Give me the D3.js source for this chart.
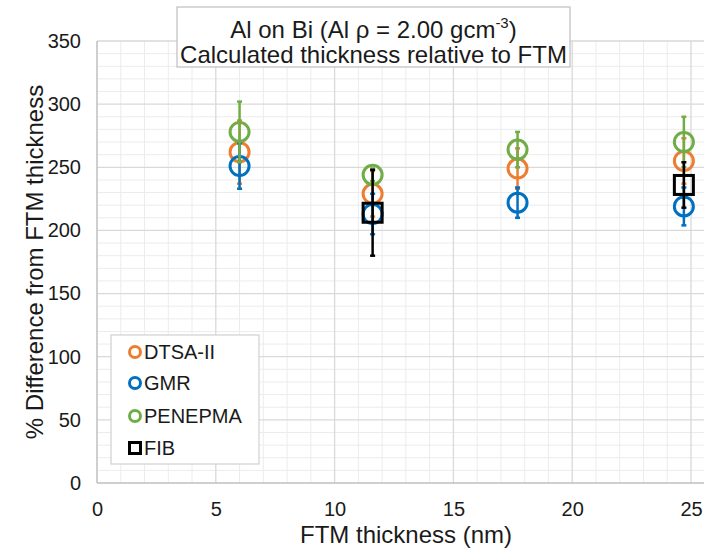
<!DOCTYPE html>
<html><head><meta charset="utf-8">
<script src="https://cdn.jsdelivr.net/npm/d3@7"></script>
<style>body{margin:0;background:#fff}svg{display:block;font-family:"Liberation Sans",Arial,sans-serif}</style>
</head><body><svg id="c" width="704" height="549"></svg>
<script>
const seriesNames = ["DTSA-II", "GMR", "PENEPMA", "FIB"];
const seriesColors = ["#ED7D31", "#0070C0", "#70AD47", "#000000"];
const ftmX = [6.0, 11.6, 17.7, 24.7];
const dtsaY = [262, 229, 249, 255];
const dtsaErr = [25, 18, 16, 18];
const gmrY = [251, 213, 222, 219];
const gmrErr = [18, 16, 12, 15];
const penY = [278, 244, 264, 270];
const penErr = [24, 5, 14, 20];
const fibX = [11.6, 24.7];
const fibY = [214, 236];
const fibErr = [34, 18];
const xTicks = [0, 5, 10, 15, 20, 25];
const yTicks = [0, 50, 100, 150, 200, 250, 300, 350];

const svg = d3.select("#c");
const x = d3.scaleLinear().domain([0, 26]).range([97, 97 + 26 * 23.76]);
const y = d3.scaleLinear().domain([0, 350]).range([483, 41]);

// minor grid
const g = svg.append("g");
g.selectAll(".mx").data(d3.range(1, 27).filter(v => v % 5)).enter().append("line")
  .attr("x1", d => x(d)).attr("x2", d => x(d)).attr("y1", y(0)).attr("y2", y(350))
  .attr("stroke", "#ececec").attr("stroke-width", 1);
g.selectAll(".my").data(d3.range(10, 351, 10).filter(v => v % 50)).enter().append("line")
  .attr("x1", x(0)).attr("x2", 704).attr("y1", d => y(d)).attr("y2", d => y(d))
  .attr("stroke", "#ececec").attr("stroke-width", 1);
// major grid
g.selectAll(".Mx").data(xTicks.slice(1)).enter().append("line")
  .attr("x1", d => x(d)).attr("x2", d => x(d)).attr("y1", y(0)).attr("y2", y(350))
  .attr("stroke", "#d9d9d9").attr("stroke-width", 1.3);
g.selectAll(".My").data(yTicks.slice(1)).enter().append("line")
  .attr("x1", x(0)).attr("x2", 704).attr("y1", d => y(d)).attr("y2", d => y(d))
  .attr("stroke", "#d9d9d9").attr("stroke-width", 1.3);
// axes lines
g.append("line").attr("x1", x(0)).attr("x2", x(0)).attr("y1", y(0)).attr("y2", y(350)).attr("stroke", "#bfbfbf").attr("stroke-width", 1.5);
g.append("line").attr("x1", x(0)).attr("x2", 704).attr("y1", y(0)).attr("y2", y(0)).attr("stroke", "#bfbfbf").attr("stroke-width", 1.5);

// tick labels via axes
const xAxis = svg.append("g").attr("transform", `translate(0,${y(0)})`)
  .call(d3.axisBottom(x).tickValues(xTicks).tickSize(0).tickPadding(19));
const yAxis = svg.append("g").attr("transform", `translate(${x(0)},0)`)
  .call(d3.axisLeft(y).tickValues(yTicks).tickSize(0).tickPadding(16));
[xAxis, yAxis].forEach(a => {
  a.select(".domain").remove();
  a.selectAll("text").attr("font-size", 20).attr("fill", "#1a1a1a").attr("font-family", '"Liberation Sans",Arial,sans-serif');
});

// axis titles
svg.append("text").attr("x", 406).attr("y", 543).attr("text-anchor", "middle")
  .attr("font-size", 24).attr("fill", "#1a1a1a").text("FTM thickness (nm)");
svg.append("text").attr("transform", `translate(43,${(y(0) + y(350)) / 2}) rotate(-90)`)
  .attr("text-anchor", "middle").attr("font-size", 24).attr("fill", "#1a1a1a")
  .text("% Difference from FTM thickness");

// series
const series = [
  {xs: ftmX, ys: dtsaY, es: dtsaErr, c: seriesColors[0], shape: "circle"},
  {xs: ftmX, ys: gmrY, es: gmrErr, c: seriesColors[1], shape: "circle"},
  {xs: ftmX, ys: penY, es: penErr, c: seriesColors[2], shape: "circle"},
  {xs: fibX, ys: fibY, es: fibErr, c: seriesColors[3], shape: "square"}
];
series.forEach(s => {
  const pts = s.xs.map((v, i) => ({x: v, y: s.ys[i], e: s.es[i]}));
  const sg = svg.append("g");
  sg.selectAll(".eb").data(pts).enter().append("line")
    .attr("x1", d => x(d.x)).attr("x2", d => x(d.x))
    .attr("y1", d => y(d.y + d.e)).attr("y2", d => y(d.y - d.e))
    .attr("stroke", s.c).attr("stroke-width", 2.5);
  [1, -1].forEach(sgn => {
    sg.selectAll(".cap" + sgn).data(pts).enter().append("line")
      .attr("x1", d => x(d.x) - 2.5).attr("x2", d => x(d.x) + 2.5)
      .attr("y1", d => y(d.y + sgn * d.e)).attr("y2", d => y(d.y + sgn * d.e))
      .attr("stroke", s.c).attr("stroke-width", 2.5);
  });
  if (s.shape === "circle") {
    sg.selectAll(".m").data(pts).enter().append("circle")
      .attr("cx", d => x(d.x)).attr("cy", d => y(d.y)).attr("r", 9.5)
      .attr("fill", "none").attr("stroke", s.c).attr("stroke-width", 3);
  } else {
    sg.selectAll(".m").data(pts).enter().append("rect")
      .attr("x", d => x(d.x) - 9.5).attr("y", d => y(d.y) - 9.5)
      .attr("width", 19).attr("height", 19)
      .attr("fill", "none").attr("stroke", s.c).attr("stroke-width", 3);
  }
});

// legend
const lg = svg.append("g");
lg.append("rect").attr("x", 111).attr("y", 335).attr("width", 148).attr("height", 129)
  .attr("fill", "#fff").attr("stroke", "#d0d0d0").attr("stroke-width", 1.2);
const rowY = [352, 383, 416, 448];
seriesNames.forEach((n, i) => {
  if (i < 3) {
    lg.append("circle").attr("cx", 135).attr("cy", rowY[i]).attr("r", 5.5)
      .attr("fill", "none").attr("stroke", seriesColors[i]).attr("stroke-width", 3);
  } else {
    lg.append("rect").attr("x", 129.5).attr("y", rowY[i] - 5.5).attr("width", 11).attr("height", 11)
      .attr("fill", "none").attr("stroke", seriesColors[i]).attr("stroke-width", 3);
  }
  lg.append("text").attr("x", 144).attr("y", rowY[i] + 7).attr("font-size", 20)
    .attr("fill", "#1a1a1a").text(n);
});

// title
const tg = svg.append("g");
tg.append("rect").attr("x", 177).attr("y", 7).attr("width", 393).attr("height", 60)
  .attr("fill", "#fff").attr("stroke", "#bfbfbf").attr("stroke-width", 1.2);
const t1 = tg.append("text").attr("x", 373.5).attr("y", 38).attr("text-anchor", "middle")
  .attr("font-size", 24).attr("fill", "#1a1a1a");
t1.append("tspan").text("Al on Bi (Al ρ = 2.00 gcm");
t1.append("tspan").attr("font-size", 15).attr("dy", -10).text("-3");
t1.append("tspan").attr("dy", 10).text(")");
tg.append("text").attr("x", 373.5).attr("y", 63).attr("text-anchor", "middle")
  .attr("font-size", 24).attr("fill", "#1a1a1a").text("Calculated thickness relative to FTM");
</script></body></html>
